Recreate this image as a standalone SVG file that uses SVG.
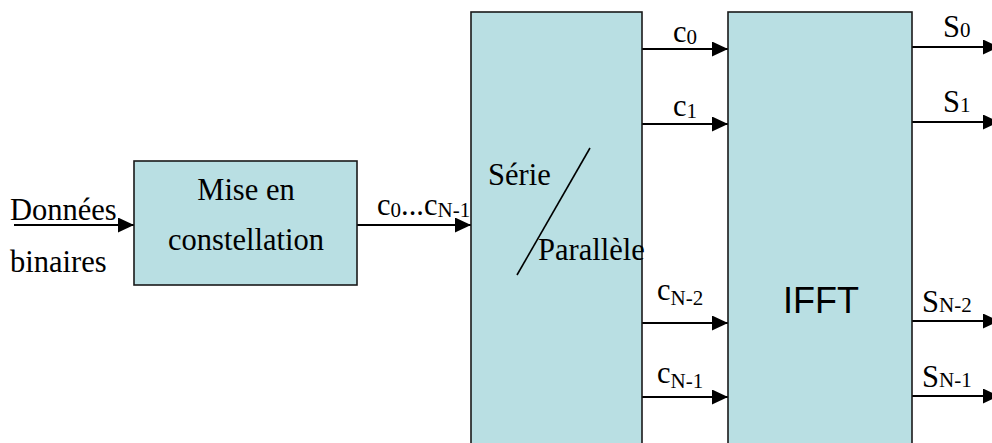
<svg xmlns="http://www.w3.org/2000/svg" width="992" height="443" viewBox="0 0 992 443">
<style>
.box{fill:#b9dfe3;stroke:#1a1a1a;stroke-width:1.6}
.t{font-family:"Liberation Serif","Times New Roman",serif;font-size:30.5px;fill:#000}
.s{font-size:21px}
.w{stroke:#000;stroke-width:2;fill:none}
</style>
<defs>
<marker id="ah" markerUnits="userSpaceOnUse" markerWidth="16" markerHeight="16" refX="16" refY="7.5" orient="auto">
<path d="M0,0 L16,7.5 L0,15 z" fill="#000"/>
</marker>
</defs>
<rect width="992" height="443" fill="#fff"/>
<g id="connectors">
<line class="w" x1="14" y1="225" x2="134" y2="225" marker-end="url(#ah)"/>
<line class="w" x1="357" y1="225" x2="471" y2="225" marker-end="url(#ah)"/>
<line class="w" x1="642" y1="49" x2="728" y2="49" marker-end="url(#ah)"/>
<line class="w" x1="642" y1="124" x2="728" y2="124" marker-end="url(#ah)"/>
<line class="w" x1="642" y1="323" x2="728" y2="323" marker-end="url(#ah)"/>
<line class="w" x1="642" y1="397" x2="728" y2="397" marker-end="url(#ah)"/>
<line class="w" x1="912" y1="47" x2="999" y2="47" marker-end="url(#ah)"/>
<line class="w" x1="912" y1="122" x2="999" y2="122" marker-end="url(#ah)"/>
<line class="w" x1="912" y1="321" x2="999" y2="321" marker-end="url(#ah)"/>
<line class="w" x1="912" y1="396" x2="999" y2="396" marker-end="url(#ah)"/>
</g>
<g id="input-label">
<text class="t" x="10" y="220">Données</text>
<text class="t" x="10" y="272">binaires</text>
</g>
<g id="constellation">
<rect class="box" x="134" y="161" width="223" height="124"/>
<text class="t" x="246" y="200" text-anchor="middle">Mise en</text>
<text class="t" x="246" y="250" text-anchor="middle">constellation</text>
</g>
<text class="t" x="377" y="215">c<tspan class="s" dy="2">0</tspan><tspan dy="-2">...c</tspan><tspan class="s" dy="2">N-1</tspan></text>
<g id="serie-parallele">
<rect class="box" x="471" y="12" width="171" height="440"/>
<text class="t" x="488" y="185">Série</text>
<line x1="590" y1="148" x2="517" y2="275" stroke="#000" stroke-width="1.6"/>
<text class="t" x="538" y="260">Parallèle</text>
</g>
<g id="ifft">
<rect class="box" x="728" y="12" width="184" height="440"/>
<text x="783" y="313" font-family="'Liberation Sans',Arial,sans-serif" font-size="36">IFFT</text>
</g>
<g id="labels">
<text class="t" x="673" y="42">c<tspan class="s" dy="2">0</tspan></text>
<text class="t" x="673" y="116">c<tspan class="s" dy="2">1</tspan></text>
<text class="t" x="657" y="300">c<tspan class="s" dy="5">N-2</tspan></text>
<text class="t" x="657" y="383">c<tspan class="s" dy="5">N-1</tspan></text>
<text class="t" x="943" y="37">S<tspan class="s">0</tspan></text>
<text class="t" x="943" y="112">S<tspan class="s">1</tspan></text>
<text class="t" x="922" y="312">S<tspan class="s">N-2</tspan></text>
<text class="t" x="922" y="387">S<tspan class="s">N-1</tspan></text>
</g>
</svg>
